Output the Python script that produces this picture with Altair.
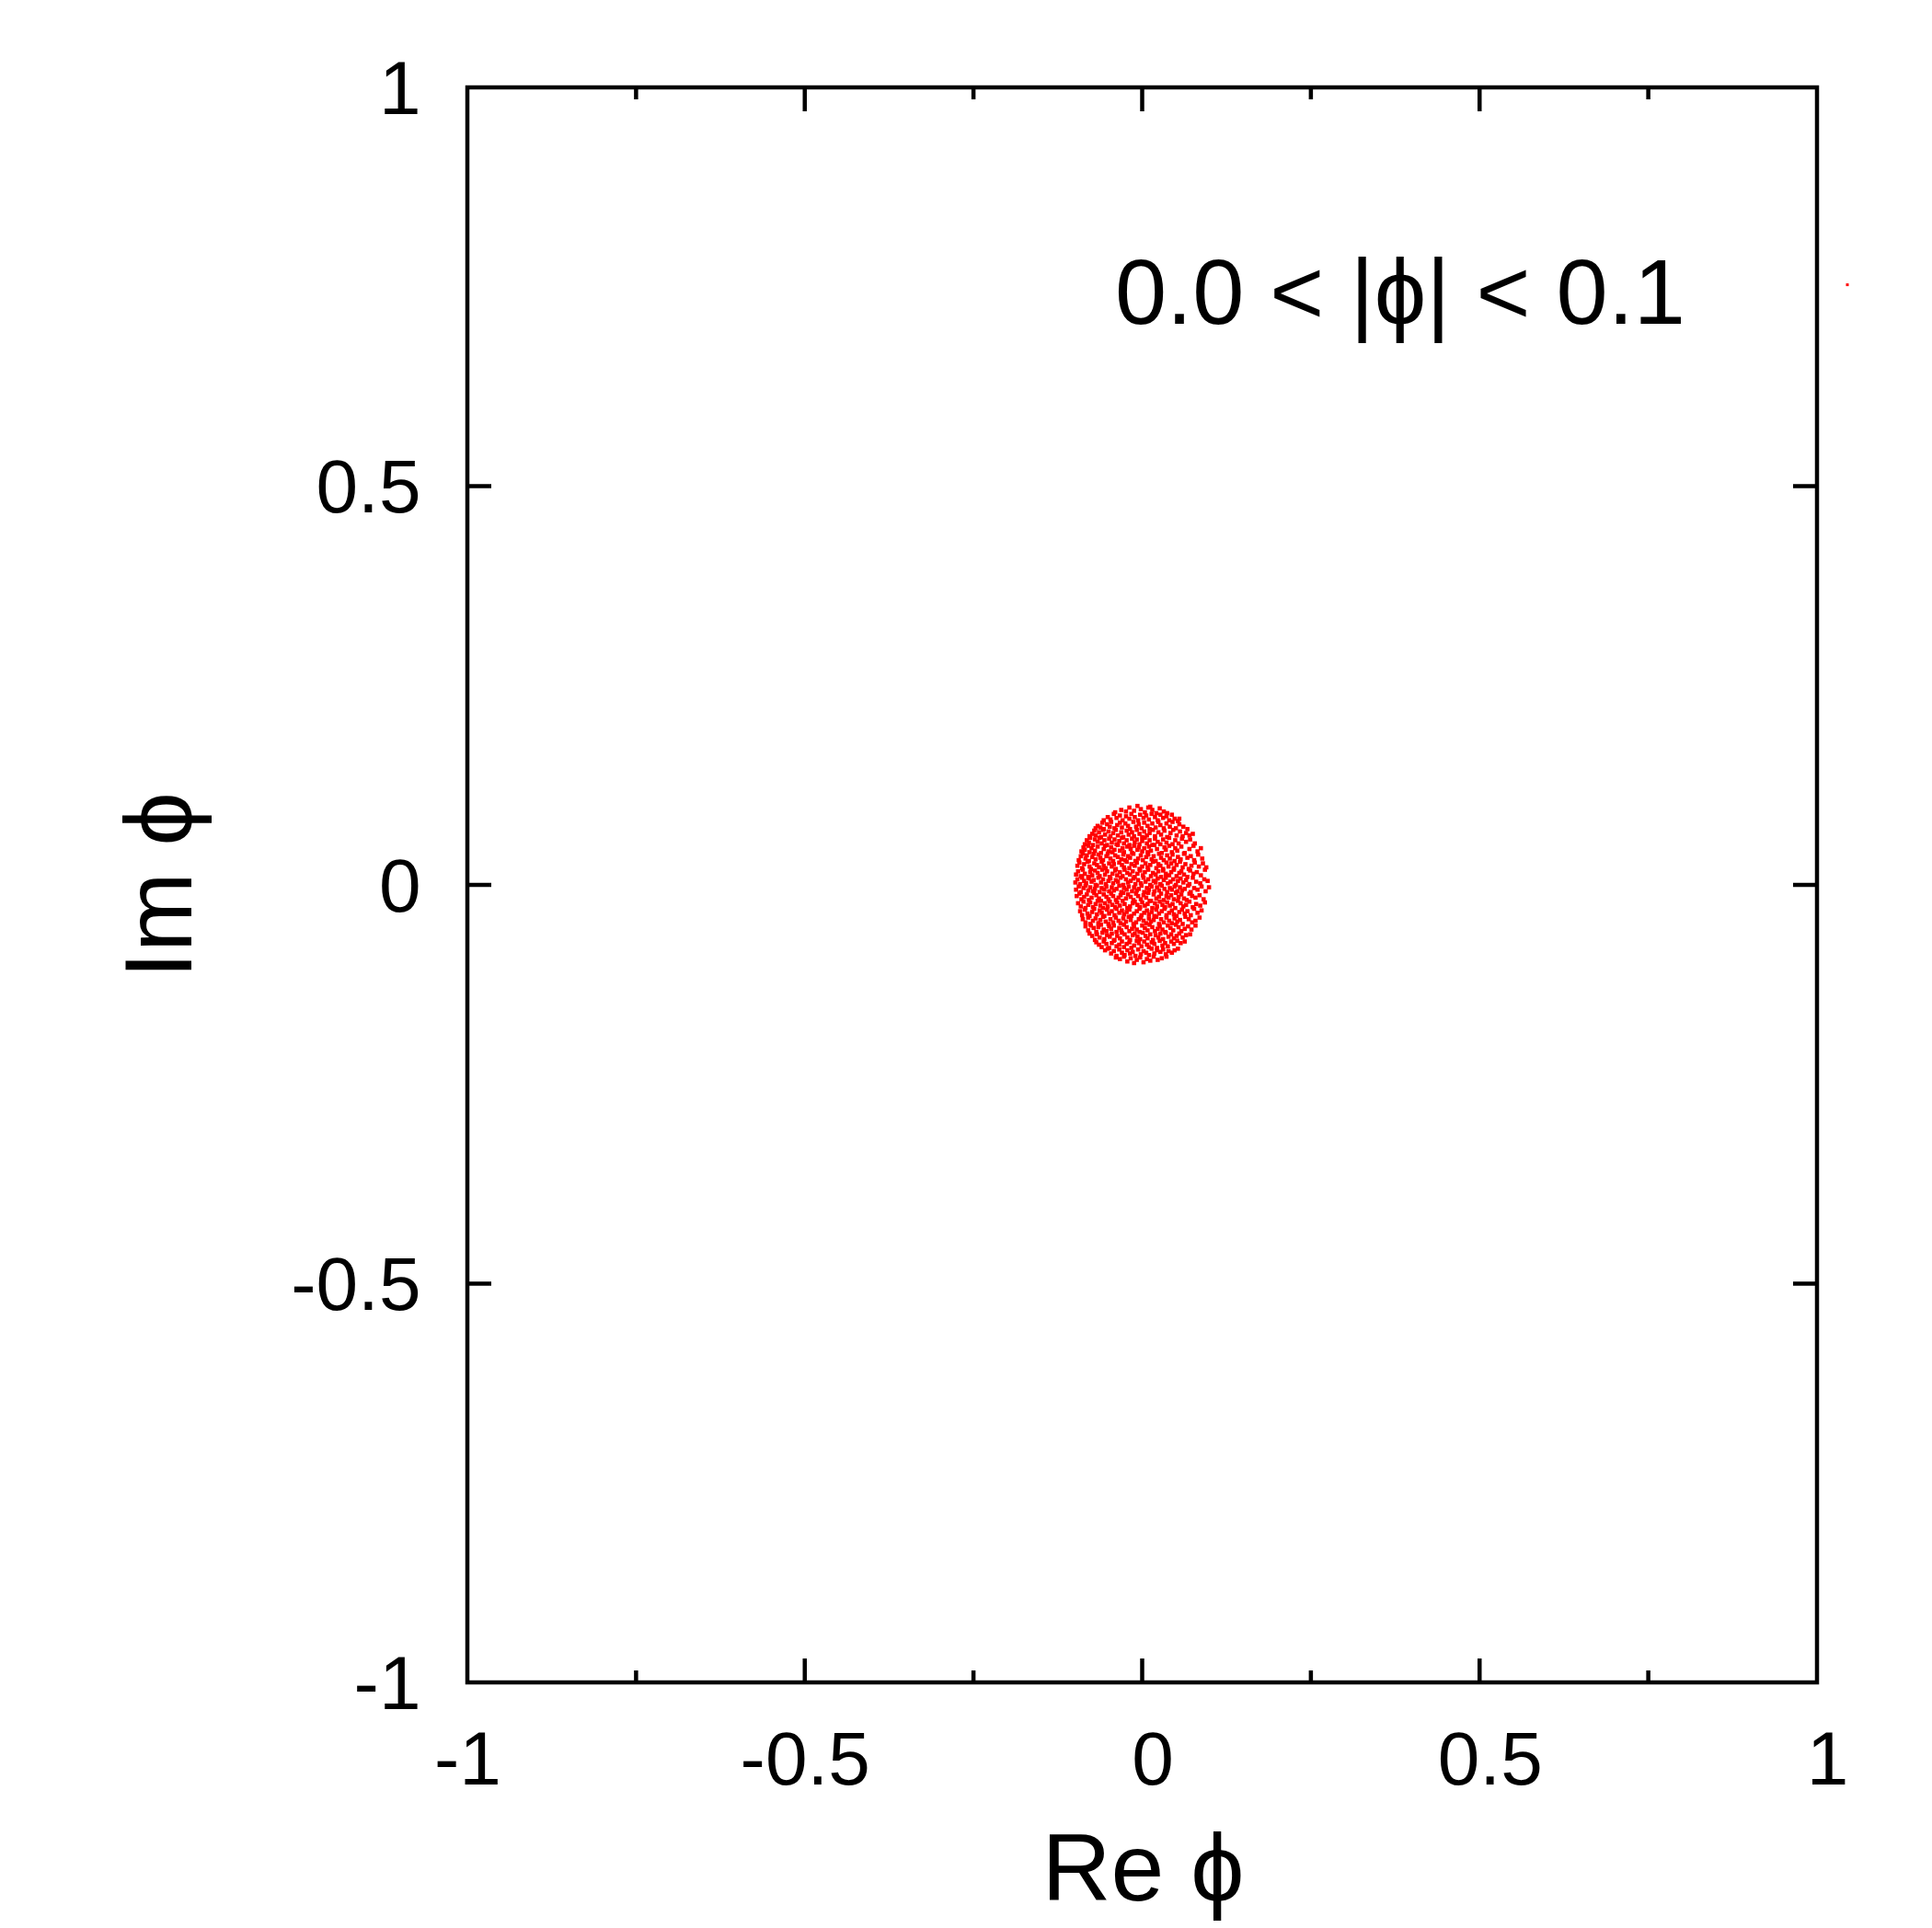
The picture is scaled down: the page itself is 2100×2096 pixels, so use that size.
import altair as alt
import pandas as pd

# Scatter of phi values with 0.0 < |phi| < 0.1, in thousandths
re_phi = [
    -40, -31, -24, -19, -12, -7, -2, 4, 9, 15, 21, 26, 32, 37, 12,
    -57, -51, -47, -42, -38, -33, -29, -24, -19, -16, -11, -6, -3, 2, 6, 10, 14, 19, 23, 27, 31, 36, 40, 44, 48, 53, 55,
    -69, -66, -62, -59, -57, -52, -48, -46, -41, -37, -33, -30, -25, -21, -18, -13, -9, -5, -1, 3, 8, 11, 15, 20, 24, 27, 32, 36, 41, 45, 50, 55, 61, 67,
    -78, -74, -71, -69, -64, -61, -58, -55, -50, -47, -43, -39, -36, -31, -28, -23, -20, -15, -12, -8, -4, 0, 3, 7, 11, 16, 19, 24, 28, 33, 37, 42, 46, 51, 56, 60, 65, 70, 75,
    -85, -82, -79, -77, -73, -70, -66, -63, -60, -56, -52, -49, -45, -41, -38, -34, -30, -27, -23, -19, -15, -11, -8, -4, 0, 4, 7, 11, 15, 19, 23, 27, 31, 36, 40, 45, 49, 54, 59, 65, 71, 78,
    -90, -87, -85, -80, -78, -75, -70, -66, -61, -57, -55, -50, -46, -44, -41, -36, -33, -29, -27, -22, -17, -15, -12, -7, -5, 0, 3, 8, 10, 13, 18, 22, 29, 33, 35, 40, 44, 49, 52, 58, 63, 70, 76, 82, 87,
    -94, -91, -88, -84, -82, -79, -74, -72, -69, -65, -62, -58, -53, -51, -47, -43, -40, -36, -31, -28, -25, -21, -18, -13, -10, -6, -2, 1, 6, 9, 14, 17, 20, 25, 28, 32, 37, 41, 45, 48, 53, 57, 62, 67, 72, 77, 83, 89,
    -96, -93, -89, -86, -81, -78, -76, -71, -67, -64, -60, -57, -54, -49, -45, -42, -39, -34, -30, -27, -23, -19, -16, -11, -8, -4, 0, 5, 8, 12, 16, 21, 24, 27, 31, 36, 39, 43, 47, 51, 56, 60, 64, 69, 73, 78, 84, 90, 95,
    -98, -95, -91, -88, -85, -80, -77, -74, -70, -66, -63, -59, -55, -52, -48, -44, -40, -37, -33, -29, -26, -22, -18, -14, -11, -7, -3, 1, 4, 9, 13, 16, 20, 24, 28, 31, 35, 40, 43, 47, 51, 55, 58, 62, 67, 71, 76, 81, 87, 93,
    -99, -96, -92, -89, -86, -83, -79, -75, -72, -69, -65, -61, -58, -54, -50, -47, -43, -39, -36, -32, -28, -24, -21, -17, -13, -10, -6, -2, 2, 5, 9, 12, 17, 20, 23, 27, 32, 35, 38, 42, 46, 50, 53, 57, 61, 65, 70, 75, 80, 86, 92, 97,
    -98, -94, -91, -87, -84, -80, -77, -73, -70, -67, -63, -60, -56, -53, -49, -45, -42, -38, -34, -31, -27, -23, -20, -15, -12, -8, -5, -1, 3, 7, 10, 14, 18, 22, 25, 29, 33, 37, 41, 44, 48, 52, 56, 59, 63, 68, 72, 77, 82, 88, 94, 99,
    -97, -93, -90, -86, -82, -79, -75, -71, -68, -64, -61, -57, -53, -50, -46, -43, -39, -35, -32, -28, -24, -21, -17, -13, -9, -6, -2, 2, 6, 9, 13, 17, 21, 25, 28, 32, 36, 39, 43, 47, 50, 54, 58, 62, 66, 70, 74, 79, 85, 91,
    -95, -91, -87, -84, -80, -77, -73, -69, -66, -62, -58, -55, -51, -48, -44, -40, -37, -33, -29, -26, -22, -18, -14, -11, -7, -3, 0, 4, 8, 11, 15, 19, 22, 26, 30, 34, 37, 41, 45, 49, 53, 57, 61, 65, 70, 75, 80, 86, 93,
    -92, -89, -85, -81, -78, -74, -71, -67, -63, -60, -56, -52, -49, -45, -41, -38, -34, -30, -27, -23, -19, -16, -12, -8, -4, -1, 3, 7, 10, 14, 18, 21, 25, 29, 33, 36, 40, 44, 47, 51, 55, 59, 63, 67, 72, 77, 82, 88,
    -88, -84, -80, -77, -73, -69, -65, -62, -58, -54, -50, -47, -43, -39, -35, -32, -28, -24, -20, -17, -13, -9, -5, -2, 2, 6, 10, 13, 17, 21, 25, 28, 32, 36, 40, 44, 48, 52, 56, 60, 64, 69, 74, 79, 85,
    -84, -80, -76, -72, -68, -65, -61, -57, -53, -49, -46, -42, -38, -34, -31, -27, -23, -19, -15, -12, -8, -4, 0, 4, 8, 11, 15, 19, 23, 26, 30, 34, 38, 42, 46, 50, 54, 58, 63, 68, 73, 79,
    -78, -74, -70, -67, -63, -59, -56, -52, -48, -45, -41, -37, -33, -30, -26, -22, -18, -14, -11, -7, -3, 1, 5, 8, 12, 16, 20, 24, 27, 31, 35, 39, 43, 47, 51, 55, 60, 65, 71,
    -68, -64, -60, -57, -53, -49, -45, -42, -38, -34, -30, -27, -23, -19, -16, -12, -8, -5, -1, 3, 7, 10, 14, 18, 22, 26, 30, 34, 38, 43, 47, 52, 57, 63,
    -55, -51, -46, -42, -38, -34, -30, -26, -22, -18, -14, -10, -6, -2, 2, 6, 10, 14, 18, 22, 27, 31, 35, 39, 44, 48, 53,
    -39, -33, -27, -22, -17, -12, -8, -3, 2, 7, 12, 17, 23, 29, 36,
]
im_phi = [
    91, 94, 92, 97, 93, 99, 95, 91, 97, 94, 90, 96, 92, 90, 98,
    81, 85, 82, 89, 84, 87, 81, 86, 83, 89, 85, 81, 88, 84, 87, 82, 89, 85, 81, 88, 84, 86, 81, 88, 83, 80, 83,
    71, 74, 72, 78, 70, 76, 73, 79, 71, 75, 78, 72, 77, 74, 70, 79, 73, 76, 71, 78, 74, 70, 77, 72, 79, 75, 71, 77, 73, 79, 71, 76, 73, 70,
    61, 64, 68, 62, 66, 60, 69, 63, 67, 61, 65, 69, 62, 66, 60, 68, 63, 66, 61, 69, 64, 60, 67, 62, 65, 69, 61, 66, 63, 68, 60, 65, 69, 62, 67, 61, 65, 62, 64,
    51, 56, 53, 59, 50, 57, 54, 59, 52, 56, 50, 58, 53, 57, 51, 55, 59, 52, 56, 50, 58, 53, 57, 51, 55, 59, 52, 56, 50, 58, 54, 51, 57, 53, 59, 51, 56, 52, 58, 54, 57, 52,
    42, 47, 44, 49, 41, 46, 43, 48, 40, 45, 49, 42, 47, 41, 44, 50, 43, 46, 41, 48, 45, 40, 49, 44, 47, 42, 46, 41, 48, 43, 50, 45, 40, 47, 44, 49, 41, 46, 43, 48, 40, 45, 49, 42, 46,
    31, 36, 39, 33, 37, 30, 35, 39, 32, 38, 34, 31, 36, 39, 33, 30, 37, 35, 32, 38, 31, 36, 34, 39, 30, 33, 37, 31, 35, 38, 32, 36, 30, 39, 34, 31, 37, 33, 38, 30, 35, 32, 39, 34, 36, 31, 38, 33,
    24, 28, 21, 26, 29, 23, 20, 27, 25, 22, 29, 24, 21, 27, 23, 26, 20, 28, 25, 22, 29, 21, 26, 24, 28, 20, 23, 27, 22, 25, 29, 21, 26, 24, 20, 28, 23, 27, 21, 25, 29, 22, 26, 20, 24, 28, 23, 27, 22,
    13, 17, 11, 19, 14, 10, 16, 12, 18, 15, 11, 19, 13, 17, 10, 14, 18, 12, 16, 11, 19, 15, 13, 17, 10, 14, 18, 12, 16, 19, 11, 15, 13, 17, 10, 18, 14, 12, 16, 19, 11, 15, 17, 13, 10, 18, 14, 16, 12, 19,
    3, 7, 1, 9, 5, 2, 8, 4, 6, 0, 9, 3, 7, 1, 5, 8, 2, 6, 4, 9, 0, 7, 3, 5, 8, 1, 6, 2, 9, 4, 7, 0, 5, 3, 8, 1, 6, 9, 2, 4, 7, 0, 5, 8, 3, 6, 1, 9, 4, 2, 7, 5,
    -6, -2, -9, -4, -1, -7, -3, -8, -5, -1, -9, -4, -6, -2, -8, -3, -7, -5, -1, -9, -4, -6, -2, -8, -3, -7, -5, -1, -9, -4, -6, -2, -8, -3, -7, -1, -5, -9, -4, -6, -2, -8, -3, -7, -5, -1, -9, -4, -6, -2, -8, -3,
    -14, -11, -18, -15, -12, -19, -16, -10, -13, -17, -20, -12, -15, -18, -11, -14, -19, -16, -13, -10, -17, -12, -15, -19, -11, -14, -18, -13, -16, -10, -20, -12, -17, -15, -11, -19, -14, -16, -13, -18, -10, -15, -12, -17, -19, -11, -14, -16, -13, -18,
    -23, -27, -21, -29, -25, -22, -28, -24, -20, -26, -29, -23, -27, -21, -25, -28, -22, -26, -20, -24, -29, -27, -23, -21, -25, -28, -22, -26, -24, -20, -29, -23, -27, -21, -25, -28, -22, -26, -24, -29, -20, -23, -27, -25, -21, -28, -24, -26, -22,
    -33, -38, -31, -36, -39, -34, -30, -37, -32, -35, -39, -31, -36, -33, -38, -30, -35, -32, -37, -34, -31, -39, -36, -33, -30, -38, -35, -32, -37, -34, -39, -31, -36, -33, -30, -38, -35, -32, -37, -39, -34, -31, -36, -33, -38, -30, -35, -32,
    -43, -47, -41, -49, -45, -42, -48, -44, -40, -46, -49, -43, -47, -41, -45, -48, -42, -46, -40, -44, -49, -47, -43, -41, -45, -48, -42, -46, -44, -40, -49, -43, -47, -41, -45, -48, -42, -46, -44, -49, -40, -43, -47, -45, -41,
    -52, -57, -51, -54, -59, -53, -50, -56, -58, -52, -55, -51, -59, -54, -57, -50, -53, -58, -55, -52, -56, -59, -51, -54, -57, -50, -53, -58, -55, -52, -56, -59, -51, -54, -57, -50, -53, -58, -55, -52, -56, -51,
    -61, -64, -69, -62, -66, -60, -68, -63, -65, -61, -69, -64, -67, -60, -62, -66, -69, -63, -61, -65, -68, -60, -64, -67, -62, -69, -63, -66, -61, -68, -60, -65, -62, -67, -64, -61, -66, -63, -62,
    -72, -75, -78, -71, -74, -79, -73, -70, -77, -75, -71, -78, -74, -72, -79, -76, -70, -73, -77, -71, -75, -78, -72, -74, -79, -70, -76, -73, -77, -71, -74, -70, -73, -71,
    -82, -80, -86, -83, -89, -81, -85, -88, -82, -86, -84, -89, -81, -87, -83, -85, -88, -80, -86, -82, -84, -81, -87, -83, -85, -82, -80,
    -91, -93, -90, -96, -92, -98, -94, -91, -97, -93, -95, -90, -94, -92, -90,
]

# Axis ticks
axis_values = [-1, -0.5, 0, 0.5, 1]
major_inner = [-0.5, 0, 0.5]
minor_x = [-0.75, -0.25, 0.25, 0.75]

# Key entry (label + sample dot)
key_label = ["0.0 < |ϕ| < 0.1"]
key_label_re = [0.805]
key_label_im = [0.704]
key_dot_re = [1.045]
key_dot_im = [0.7525]

FONT = "Liberation Sans, Arial, DejaVu Sans"
W, H = 1467, 1734
RED = "#ff0000"

df = pd.DataFrame({"re": [v / 1000 for v in re_phi], "im": [v / 1000 for v in im_phi]})
key_text_df = pd.DataFrame({"re": key_label_re, "im": key_label_im, "label": key_label})
key_dot_df = pd.DataFrame({"re": key_dot_re, "im": key_dot_im})
major_df = pd.DataFrame({"v": major_inner})
minor_df = pd.DataFrame({"v": minor_x})

xs = alt.Scale(domain=[-1, 1], nice=False, zero=False)
ys = alt.Scale(domain=[-1, 1], nice=False, zero=False)

x_axis = alt.Axis(
    values=axis_values, labelExpr="'' + datum.value",
    labelFont=FONT, labelFontSize=82, labelColor="black", labelPadding=45,
    labelOffset={"condition": {"test": "datum.value >= 0", "value": 11}, "value": 0},
    labelFlush=False, labelOverlap=False,
    ticks=False, tickSize=0, domain=False, grid=False,
    title="Re ϕ", titleFont=FONT, titleFontSize=104, titleFontWeight="normal",
    titleColor="black", titleX=734, titleY=236, titleAlign="center",
    titleBaseline="alphabetic", titleAngle=0,
)
y_axis = alt.Axis(
    values=axis_values, labelExpr="'' + datum.value",
    labelFont=FONT, labelFontSize=82, labelColor="black", labelPadding=51,
    labelOffset=3, labelFlush=False, labelOverlap=False,
    ticks=False, tickSize=0, domain=False, grid=False,
    title="Im ϕ", titleFont=FONT, titleFontSize=104, titleFontWeight="normal",
    titleColor="black", titleX=-301, titleY=867, titleAlign="center",
    titleBaseline="alphabetic", titleAngle=270,
)


def X(field):
    return alt.X(field, scale=xs, axis=x_axis, title="Re ϕ")


def Y(field):
    return alt.Y(field, scale=ys, axis=y_axis, title="Im ϕ")


points = alt.Chart(df).mark_square(size=21, color=RED, opacity=1, strokeWidth=0).encode(
    x=X("re:Q"), y=Y("im:Q"),
)

key_dot = alt.Chart(key_dot_df).mark_square(size=9, color=RED, opacity=1, strokeWidth=0).encode(
    x=X("re:Q"), y=Y("im:Q"),
)

key_text = alt.Chart(key_text_df).mark_text(
    align="right", baseline="alphabetic", font=FONT, fontSize=101, color="black"
).encode(
    x=X("re:Q"), y=Y("im:Q"), text="label:N",
)

rule_kw = dict(color="black", strokeWidth=4.5, strokeCap="butt")

bottom_major = alt.Chart(major_df).mark_rule(**rule_kw).encode(
    x=X("v:Q"), y=alt.value(H), y2=alt.value(H - 26))
top_major = alt.Chart(major_df).mark_rule(**rule_kw).encode(
    x=X("v:Q"), y=alt.value(0), y2=alt.value(26))
bottom_minor = alt.Chart(minor_df).mark_rule(**rule_kw).encode(
    x=X("v:Q"), y=alt.value(H), y2=alt.value(H - 13))
top_minor = alt.Chart(minor_df).mark_rule(**rule_kw).encode(
    x=X("v:Q"), y=alt.value(0), y2=alt.value(13))
left_major = alt.Chart(major_df).mark_rule(**rule_kw).encode(
    y=Y("v:Q"), x=alt.value(0), x2=alt.value(26))
right_major = alt.Chart(major_df).mark_rule(**rule_kw).encode(
    y=Y("v:Q"), x=alt.value(W), x2=alt.value(W - 26))

chart = alt.layer(
    points, key_dot, key_text,
    bottom_major, top_major, bottom_minor, top_minor, left_major, right_major,
).properties(
    width=W, height=H,
    autosize=alt.AutoSizeParams(type="none"),
    padding={"left": 500, "top": 87, "right": 110, "bottom": 259},
    background="white",
).configure_view(stroke="black", strokeWidth=4.5)

chart.save("out.html", embed_options={"renderer": "svg", "actions": False})
